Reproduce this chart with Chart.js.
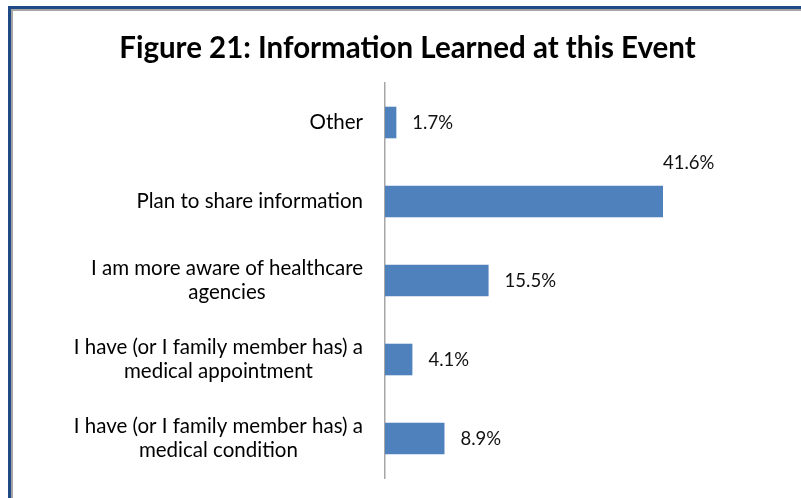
<!DOCTYPE html>
<html>
<head>
<meta charset="utf-8">
<script src="https://cdn.jsdelivr.net/npm/chart.js@4/dist/chart.umd.min.js"></script>
<style>
  html, body { margin: 0; padding: 0; background: #ffffff; }
  #wrap { position: relative; width: 801px; height: 498px; overflow: hidden; background: #fff; }
  #frame { position: absolute; left: 8px; top: 6px; right: -10px; bottom: -10px;
           border-top: 3px solid #1F4A86; border-left: 3px solid #1F4A86; }
  #inner { position: absolute; left: 0; top: 0; right: 0; bottom: 0;
           border-top: 2px solid #A5A5A5; border-left: 2px solid #A5A5A5; }
  canvas { position: absolute; left: 0; top: 0; }
</style>
</head>
<body>
<div id="wrap">
  <div id="frame"><div id="inner"></div></div>
  <canvas id="c" width="801" height="498"></canvas>
</div>
<script>
const titleText = "Figure 21: Information Learned at this Event";
const categories = [
  ["Other"],
  ["Plan to share information"],
  ["I am more aware of healthcare", "agencies"],
  ["I have (or I family member has) a", "medical appointment"],
  ["I have (or I family member has) a", "medical condition"]
];
const values = [1.7, 41.6, 15.5, 4.1, 8.9];
const valueLabels = ["1.7%", "41.6%", "15.5%", "4.1%", "8.9%"];

const LABEL_FONT = "20.5px Lato";
const VALUE_FONT = "18.5px Lato";

const categoryLabelPlugin = {
  id: 'categoryLabels',
  afterDraw(chart) {
    const ctx = chart.ctx;
    const yScale = chart.scales.y;
    const right = chart.chartArea.left - 22;
    const lineH = 24;
    ctx.save();
    ctx.font = LABEL_FONT;
    ctx.fillStyle = '#000000';
    ctx.textAlign = 'center';
    ctx.textBaseline = 'middle';
    categories.forEach((lines, i) => {
      const yc = yScale.getPixelForTick(i);
      const w = Math.max(...lines.map(l => ctx.measureText(l).width));
      const cx = right - w / 2;
      const y0 = yc - (lines.length - 1) * lineH / 2;
      lines.forEach((l, j) => ctx.fillText(l, cx, y0 + j * lineH));
    });
    ctx.restore();
  }
};

const valueLabelPlugin = {
  id: 'valueLabels',
  afterDatasetsDraw(chart) {
    const ctx = chart.ctx;
    const meta = chart.getDatasetMeta(0);
    const maxV = Math.max(...values);
    ctx.save();
    ctx.font = VALUE_FONT;
    ctx.fillStyle = '#111111';
    ctx.textBaseline = 'middle';
    ctx.textAlign = 'left';
    meta.data.forEach((bar, i) => {
      if (values[i] === maxV) {
        ctx.fillText(valueLabels[i], bar.x, bar.y - 38);
      } else {
        ctx.fillText(valueLabels[i], bar.x + 16, bar.y + 1);
      }
    });
    ctx.restore();
  }
};

new Chart(document.getElementById('c'), {
  type: 'bar',
  data: {
    labels: categories,
    datasets: [{
      data: values,
      backgroundColor: '#4F81BD',
      borderWidth: 0,
      categoryPercentage: 1.0,
      barPercentage: 0.4
    }]
  },
  options: {
    indexAxis: 'y',
    responsive: false,
    animation: false,
    layout: { padding: { left: 14, right: 0, top: 0, bottom: 20 } },
    plugins: {
      legend: { display: false },
      tooltip: { enabled: false },
      title: {
        display: true,
        text: titleText,
        color: '#000000',
        font: { family: 'Lato', size: 29.5, weight: 'bold', lineHeight: 1.2 },
        padding: { top: 30.3, bottom: 17.3 }
      }
    },
    scales: {
      x: {
        display: false,
        min: 0,
        max: 62.25
      },
      y: {
        display: true,
        ticks: { display: false },
        grid: { display: false, drawTicks: false },
        border: { display: true, color: '#A6A6A6', width: 1.5 },
        afterFit(axis) { axis.width = 371; }
      }
    }
  },
  plugins: [categoryLabelPlugin, valueLabelPlugin]
});
</script>
</body>
</html>
